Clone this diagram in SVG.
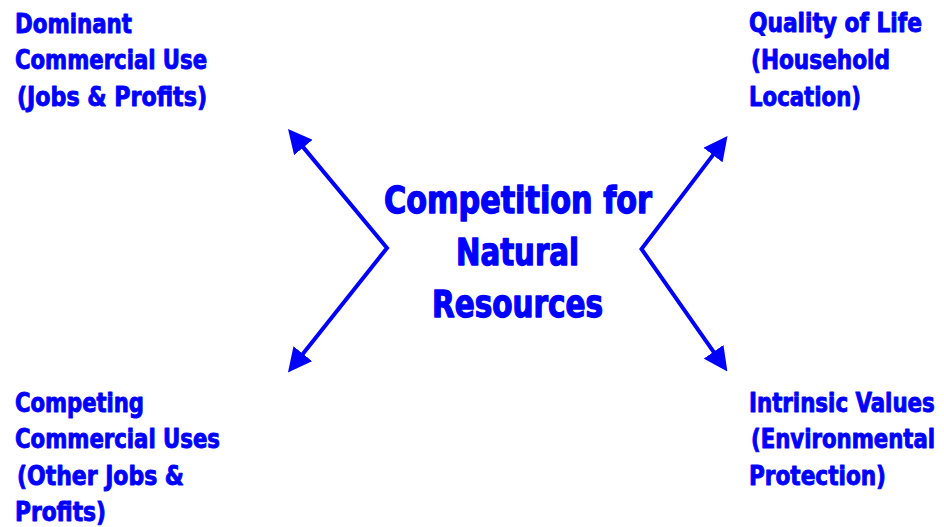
<svg xmlns="http://www.w3.org/2000/svg" width="944" height="527" viewBox="0 0 944 527">
<style>
text{font-family:"DejaVu Sans Condensed","DejaVu Sans","Liberation Sans",sans-serif;font-weight:bold;font-stretch:condensed;fill:#0000FF;stroke:#0000FF;stroke-linejoin:round}
.c{font-size:27px;stroke-width:0.9px}
.m{font-size:38px;stroke-width:1.3px}
.conn{fill:none;stroke:#0000FF;stroke-width:4;stroke-linejoin:miter}
</style>
<defs>
<marker id="ah" viewBox="0 0 24 24" refX="4" refY="12" markerWidth="24" markerHeight="24" markerUnits="userSpaceOnUse" orient="auto-start-reverse">
<path d="M0,0 L24,12 L0,24 z" fill="#0000FF"/>
</marker>
</defs>
<rect width="944" height="527" fill="#ffffff"/>
<g id="connectors">
<polyline class="conn" points="300.8,144.4 387,248 300.4,356.9" marker-start="url(#ah)" marker-end="url(#ah)"/>
<polyline class="conn" points="715.4,151.9 641.5,249 715.9,355.1" marker-start="url(#ah)" marker-end="url(#ah)"/>
</g>
<g id="center">
<text class="m" x="384" y="213" textLength="268" lengthAdjust="spacingAndGlyphs">Competition for</text>
<text class="m" x="456" y="265" textLength="123" lengthAdjust="spacingAndGlyphs">Natural</text>
<text class="m" x="432" y="317" textLength="171" lengthAdjust="spacingAndGlyphs">Resources</text>
</g>
<g id="dominant">
<text class="c" x="15" y="33" textLength="117" lengthAdjust="spacingAndGlyphs">Dominant</text>
<text class="c" x="15" y="69" textLength="192" lengthAdjust="spacingAndGlyphs">Commercial Use</text>
<text class="c" x="17" y="106" textLength="190" lengthAdjust="spacingAndGlyphs">(Jobs &amp; Profits)</text>
</g>
<g id="quality">
<text class="c" x="749" y="32" textLength="173" lengthAdjust="spacingAndGlyphs">Quality of Life</text>
<text class="c" x="751" y="69" textLength="139" lengthAdjust="spacingAndGlyphs">(Household</text>
<text class="c" x="749" y="106" textLength="112" lengthAdjust="spacingAndGlyphs">Location)</text>
</g>
<g id="competing">
<text class="c" x="15" y="412" textLength="129" lengthAdjust="spacingAndGlyphs">Competing</text>
<text class="c" x="15" y="448" textLength="205" lengthAdjust="spacingAndGlyphs">Commercial Uses</text>
<text class="c" x="17" y="485" textLength="167" lengthAdjust="spacingAndGlyphs">(Other Jobs &amp;</text>
<text class="c" x="15" y="521" textLength="91" lengthAdjust="spacingAndGlyphs">Profits)</text>
</g>
<g id="intrinsic">
<text class="c" transform="translate(749,412) scale(0.862,1)" x="0" y="0" textLength="215.5" lengthAdjust="spacingAndGlyphs">Intrinsic Values</text>
<text class="c" transform="translate(751,448) scale(0.86,1)" x="0" y="0" textLength="214" lengthAdjust="spacingAndGlyphs">(Environmental</text>
<text class="c" x="749" y="485" textLength="137" lengthAdjust="spacingAndGlyphs">Protection)</text>
</g>
</svg>
